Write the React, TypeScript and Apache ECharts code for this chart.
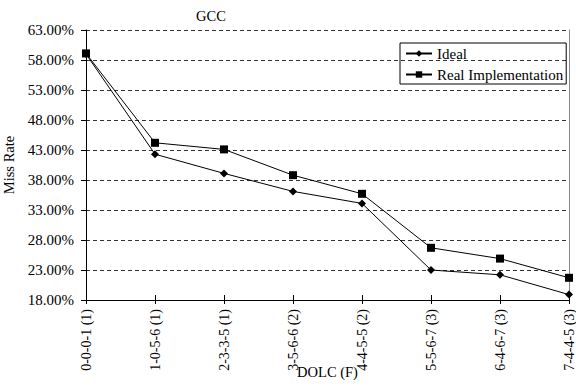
import React, { useEffect, useRef } from "react";
import * as echarts from "echarts";

const categories = [
  "0-0-0-1 (1)",
  "1-0-5-6 (1)",
  "2-3-3-5 (1)",
  "3-5-6-6 (2)",
  "4-4-5-5 (2)",
  "5-5-6-7 (3)",
  "6-4-6-7 (3)",
  "7-4-4-5 (3)",
];
const idealValues = [59.0, 42.3, 39.1, 36.1, 34.1, 23.0, 22.2, 18.9];
const realValues = [59.1, 44.2, 43.1, 38.8, 35.7, 26.7, 24.9, 21.7];
const yMin = 18;
const yMax = 63;
const yStep = 5;

const FONT = "Liberation Serif";

export default function App() {
  const ref = useRef<HTMLDivElement>(null);
  useEffect(() => {
    document.body.style.margin = "0";
    const chart = echarts.init(ref.current!, null, { renderer: "svg" });
    chart.setOption({
      animation: false,
      backgroundColor: "#ffffff",
      textStyle: { fontFamily: FONT, color: "#000" },
      title: {
        text: "GCC",
        left: 196,
        top: 8,
        padding: 0,
        textStyle: { fontFamily: FONT, fontSize: 14.5, fontWeight: "normal", color: "#000" },
      },
      legend: {
        orient: "vertical",
        left: 400,
        top: 43,
        itemWidth: 26,
        itemHeight: 8,
        itemGap: 6,
        padding: [3, 3, 2, 5],
        borderColor: "#000",
        borderWidth: 1,
        borderRadius: 0,
        textStyle: { fontFamily: FONT, fontSize: 15, color: "#000" },
        data: ["Ideal", "Real Implementation"],
      },
      grid: { left: 86, right: 7, top: 30, bottom: 87, outerBoundsMode: "none", containLabel: false },
      xAxis: [
        {
          type: "category",
          data: categories,
          boundaryGap: false,
          name: "DOLC (F)",
          nameLocation: "middle",
          nameGap: 64,
          nameMoveOverlap: false,
          nameTextStyle: { fontFamily: FONT, fontSize: 14.5, color: "#000" },
          axisLine: { lineStyle: { color: "#000", width: 1 } },
          axisTick: { length: 4, lineStyle: { color: "#000" } },
          axisLabel: { rotate: 90, margin: 9, fontFamily: FONT, fontSize: 14, color: "#000", interval: 0 },
          splitLine: { show: false },
        },
        {
          type: "category",
          data: categories,
          boundaryGap: false,
          position: "bottom",
          axisLine: { show: false },
          axisTick: { inside: true, length: 5, lineStyle: { color: "#000" } },
          axisLabel: { show: false },
          splitLine: { show: false },
        },
      ],
      yAxis: [
        {
          type: "value",
          min: yMin,
          max: yMax,
          interval: yStep,
          name: "Miss Rate",
          nameLocation: "middle",
          nameGap: 62,
          nameTextStyle: { fontFamily: FONT, fontSize: 14.5, color: "#000" },
          axisLine: { show: true, lineStyle: { color: "#000", width: 1 } },
          axisTick: { show: true, length: 5, lineStyle: { color: "#000" } },
          axisLabel: {
            margin: 12,
            fontFamily: FONT,
            fontSize: 15,
            color: "#000",
            formatter: (v: number) => v.toFixed(2) + "%",
          },
          splitLine: { show: true, lineStyle: { color: "#333", type: [4, 3], width: 1 } },
        },
        {
          type: "value",
          min: yMin,
          max: yMax,
          interval: yStep,
          position: "right",
          axisLine: { show: true, lineStyle: { color: "#888", width: 1 } },
          axisTick: { show: false },
          axisLabel: { show: false },
          splitLine: { show: false },
        },
      ],
      series: [
        {
          name: "Ideal",
          type: "line",
          data: idealValues,
          symbol: "diamond",
          symbolSize: 8,
          lineStyle: { color: "#000", width: 1 },
          itemStyle: { color: "#000" },
        },
        {
          name: "Real Implementation",
          type: "line",
          data: realValues,
          symbol: "rect",
          symbolSize: 8,
          lineStyle: { color: "#000", width: 1 },
          itemStyle: { color: "#000" },
        },
      ],
    });
    return () => chart.dispose();
  }, []);
  return <div ref={ref} style={{ width: 576, height: 387 }} />;
}
